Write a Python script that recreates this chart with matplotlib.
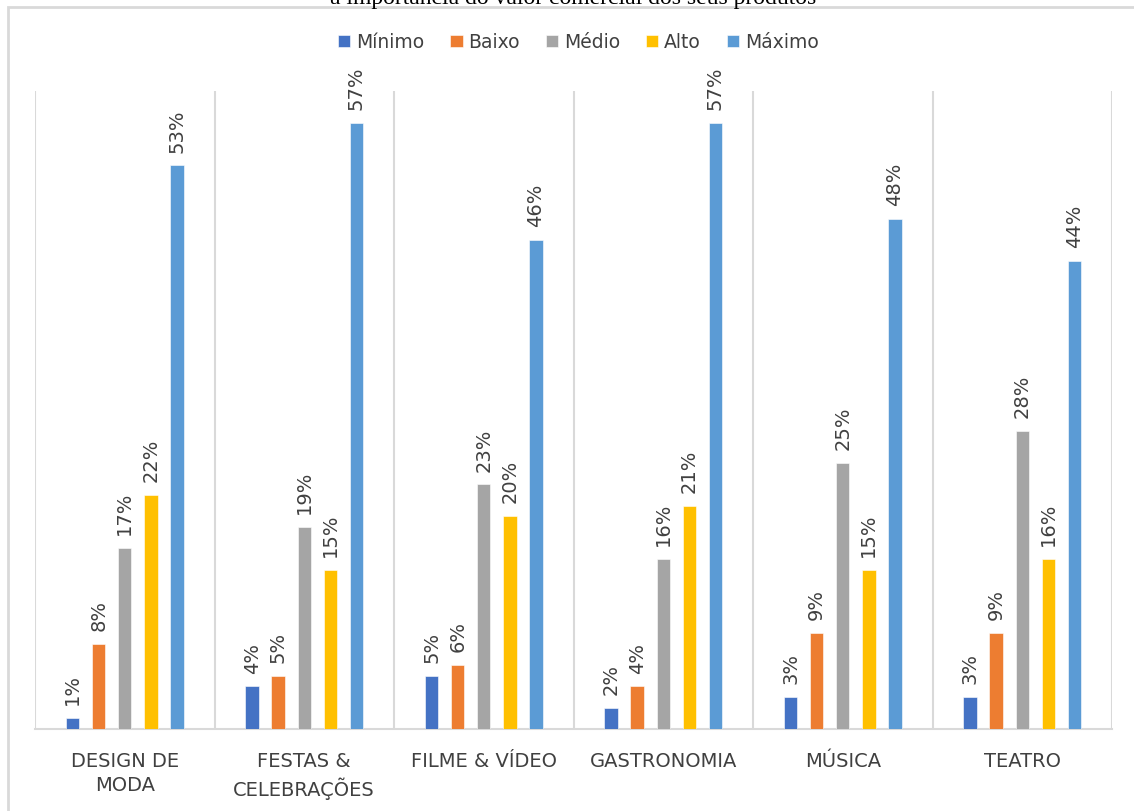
import numpy as np
import matplotlib.pyplot as plt
from matplotlib.patches import Rectangle

# dados (%)
categorias = ['DESIGN DE\nMODA', 'FESTAS &\nCELEBRAÇÕES', 'FILME & VÍDEO',
              'GASTRONOMIA', 'MÚSICA', 'TEATRO']
minimo = [1, 4, 5, 2, 3, 3]
baixo = [8, 5, 6, 4, 9, 9]
medio = [17, 19, 23, 16, 25, 28]
alto = [22, 15, 20, 21, 15, 16]
maximo = [53, 57, 46, 57, 48, 44]
series_nomes = ['Mínimo', 'Baixo', 'Médio', 'Alto', 'Máximo']
cores = ['#4472C4', '#ED7D31', '#A5A5A5', '#FFC000', '#5B9BD5']

series = [minimo, baixo, medio, alto, maximo]

fig = plt.figure(figsize=(11.34, 8.12), dpi=100)
ax = fig.add_axes([35 / 1134, 1 - 730 / 812, (1112 - 35) / 1134, (730 - 92) / 812])

# borda externa do gráfico
fig.patches.append(Rectangle((8 / 1134, -0.05), 1.2, 1 - 8 / 812 + 0.05,
                             transform=fig.transFigure, fill=False,
                             edgecolor='#D9D9D9', linewidth=2))

# título (cortado no topo, como no original)
fig.text(0.505, 1 - 4 / 812, 'a importância do valor comercial dos seus produtos',
         ha='center', va='baseline', fontsize=17, family='Liberation Serif',
         color='black')

x = np.arange(len(categorias))
largura = 0.075
passo = 0.145
for i, (vals, nome, cor) in enumerate(zip(series, series_nomes, cores)):
    pos = x + (i - 2) * passo
    barras = ax.bar(pos, vals, largura, color=cor, label=nome,
                    edgecolor='white', linewidth=0.4, zorder=3)
    for b, v in zip(barras, vals):
        ax.annotate(f'{v}%', (b.get_x() + b.get_width() / 2, b.get_height()),
                    xytext=(0, 10), textcoords='offset points', rotation=90,
                    ha='center', va='bottom', fontsize=14, color='#404040')

for b in np.arange(len(categorias) + 1) - 0.5:
    ax.axvline(b, color='#D9D9D9', linewidth=1.5, zorder=1)

ax.set_xlim(-0.5, len(categorias) - 0.5)
ax.set_ylim(0, 60)
ax.set_yticks([])
ax.set_xticks(x)
ax.set_xticklabels(categorias, fontsize=14, color='#404040', linespacing=1.35)
ax.tick_params(axis='x', length=0, pad=16)
for s in ['top', 'right', 'left']:
    ax.spines[s].set_visible(False)
ax.spines['bottom'].set_color('#D9D9D9')
ax.spines['bottom'].set_linewidth(1.5)

fig.legend(loc='center', bbox_to_anchor=(0.51, 1 - 43 / 812), ncol=5,
           frameon=False, fontsize=13.5, handlelength=0.65, handleheight=0.65,
           handletextpad=0.3, columnspacing=1.4, labelcolor='#404040')

fig.savefig('out.png', dpi=100)
